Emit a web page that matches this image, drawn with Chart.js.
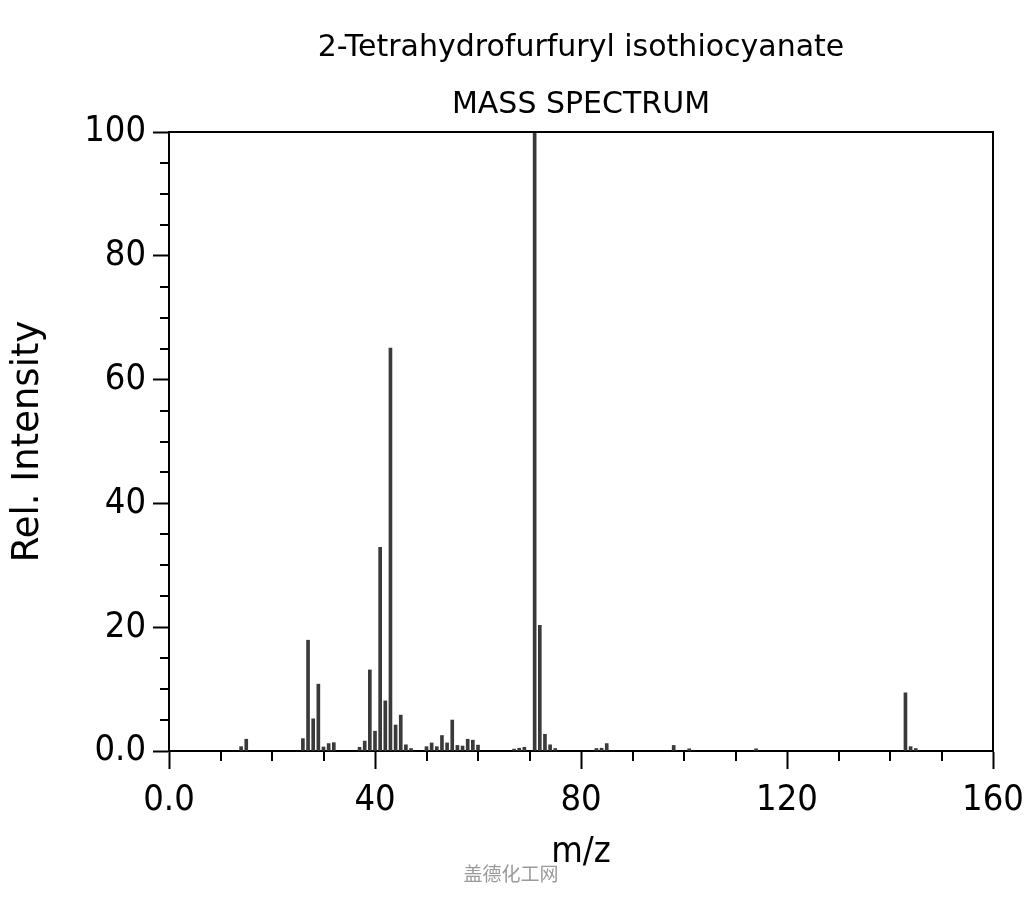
<!DOCTYPE html>
<html>
<head>
<meta charset="utf-8">
<title>2-Tetrahydrofurfuryl isothiocyanate - Mass Spectrum</title>
<script src="https://cdn.jsdelivr.net/npm/chart.js@4.4.1/dist/chart.umd.min.js"></script>
<style>
  html, body { margin: 0; padding: 0; background: #fff; }
  #wrap { position: relative; width: 1024px; height: 900px; }
</style>
</head>
<body>
<div id="wrap"><canvas id="ms" width="1024" height="900"></canvas></div>
<script>
// peak list (m/z, relative intensity %)
const mz = [14, 15, 26, 27, 28, 29, 30, 31, 32, 37, 38, 39, 40, 41, 42, 43, 44, 45, 46, 47,
            50, 51, 52, 53, 54, 55, 56, 57, 58, 59, 60, 67, 68, 69, 71, 72, 73, 74, 75,
            83, 84, 85, 98, 101, 114, 143, 144, 145];
const intensity = [0.7, 1.9, 2.0, 17.9, 5.2, 10.8, 0.65, 1.2, 1.35, 0.6, 1.6, 13.1, 3.2, 32.9, 8.1, 65.1, 4.2, 5.8, 1.0, 0.4,
                   0.7, 1.3, 0.7, 2.5, 1.3, 5.0, 0.9, 0.8, 1.9, 1.75, 0.95, 0.3, 0.45, 0.6, 100, 20.3, 2.7, 1.0, 0.4,
                   0.4, 0.45, 1.2, 0.9, 0.35, 0.35, 9.4, 0.7, 0.4];

const titleLines = ['2-Tetrahydrofurfuryl isothiocyanate', 'MASS SPECTRUM'];
const xTicksMajor = [0, 40, 80, 120, 160];
const yTicksMajor = [0, 20, 40, 60, 80, 100];
const watermark = '盖德化工网';

const tickFont = '"DejaVu Sans Condensed", "DejaVu Sans", sans-serif';

function fmt(v) { return v === 0 ? '0.0' : String(v); }

// title, frame, minor ticks, watermark
const decor = {
  id: 'decor',
  afterDraw(chart) {
    const ctx = chart.ctx, a = chart.chartArea;
    const xs = chart.scales.x, ys = chart.scales.y;
    ctx.save();
    ctx.strokeStyle = '#000';
    ctx.lineWidth = 2;
    ctx.beginPath();
    ctx.moveTo(a.left, a.top); ctx.lineTo(a.right, a.top); ctx.lineTo(a.right, a.bottom);
    ctx.stroke();

    ctx.beginPath();
    for (let v = 0; v <= 160; v += 10) {
      if (xTicksMajor.includes(v)) continue;
      const px = Math.round(xs.getPixelForValue(v));
      ctx.moveTo(px, a.bottom); ctx.lineTo(px, a.bottom + 10);
    }
    for (let v = 0; v <= 100; v += 5) {
      if (yTicksMajor.includes(v)) continue;
      const py = Math.round(ys.getPixelForValue(v));
      ctx.moveTo(a.left, py); ctx.lineTo(a.left - 9, py);
    }
    ctx.stroke();

    const cx = (a.left + a.right) / 2;
    ctx.fillStyle = '#000';
    ctx.textAlign = 'center';
    ctx.textBaseline = 'alphabetic';
    ctx.font = '30px "DejaVu Sans", sans-serif';
    ctx.fillText(titleLines[0], cx, 56);
    ctx.fillText(titleLines[1], cx, 113);

    ctx.fillStyle = '#9a9a9a';
    ctx.font = '19px "Noto Sans CJK SC", sans-serif';
    ctx.fillText(watermark, 511, 881);
    ctx.restore();
  }
};

new Chart(document.getElementById('ms'), {
  type: 'bar',
  data: {
    datasets: [{
      data: mz.map((m, i) => ({ x: m, y: intensity[i] })),
      backgroundColor: '#3a3a3a',
      borderWidth: 0,
      barThickness: 3
    }]
  },
  options: {
    responsive: false,
    animation: false,
    layout: { padding: { top: 132, right: 31, bottom: 0, left: 0 } },
    plugins: { legend: { display: false }, tooltip: { enabled: false } },
    scales: {
      x: {
        type: 'linear',
        offset: false,
        min: 0, max: 160,
        afterFit: s => { s.height = 149; s.paddingLeft = 0; s.paddingRight = 0; },
        border: { color: '#000', width: 2 },
        grid: {
          offset: false,
          drawOnChartArea: false,
          tickLength: 18,
          tickWidth: 2,
          tickColor: c => (c.tick && c.tick.value % 40 === 0) ? '#000' : 'rgba(0,0,0,0)'
        },
        ticks: {
          stepSize: 10,
          autoSkip: false,
          maxRotation: 0,
          padding: 10,
          color: '#000',
          font: { family: tickFont, size: 36 },
          callback: v => v % 40 === 0 ? fmt(v) : ''
        },
        title: {
          display: true,
          text: 'm/z',
          color: '#000',
          font: { family: tickFont, size: 36 },
          padding: { top: 0, bottom: 26 }
        }
      },
      y: {
        min: 0, max: 100,
        afterFit: s => { s.width = 169; s.paddingTop = 0; s.paddingBottom = 0; },
        border: { color: '#000', width: 2 },
        grid: {
          drawOnChartArea: false,
          tickLength: 16,
          tickWidth: 2,
          tickColor: c => (c.tick && c.tick.value % 20 === 0) ? '#000' : 'rgba(0,0,0,0)'
        },
        ticks: {
          stepSize: 5,
          autoSkip: false,
          padding: 7,
          color: '#000',
          font: { family: tickFont, size: 36 },
          callback: v => v % 20 === 0 ? fmt(v) : ''
        },
        title: {
          display: true,
          text: 'Rel. Intensity',
          color: '#000',
          font: { family: '"DejaVu Sans", sans-serif', size: 37 },
          padding: { top: 6, bottom: 0 }
        }
      }
    }
  },
  plugins: [decor]
});
</script>
</body>
</html>
